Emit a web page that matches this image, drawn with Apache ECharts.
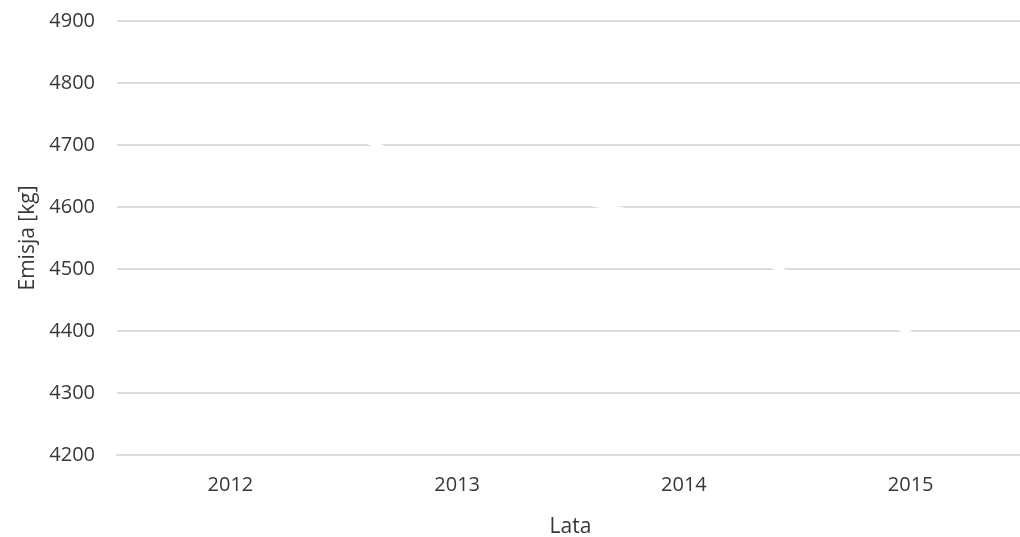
<!DOCTYPE html>
<html>
<head>
<meta charset="utf-8">
<script src="https://cdn.jsdelivr.net/npm/echarts@6/dist/echarts.min.js"></script>
<style>html,body{margin:0;padding:0;background:#fff}#c{width:1020px;height:537px}</style>
</head>
<body>
<div id="c"></div>
<script>
const years = ['2012', '2013', '2014', '2015'];
const emission = [4790, 4650, 4575, 4396];
const yMin = 4200, yMax = 4900, yStep = 100;

const chart = echarts.init(document.getElementById('c'), null, {renderer: 'canvas'});
const font = '"Open Sans", "Noto Sans", sans-serif';
chart.setOption({
  animation: false,
  backgroundColor: '#ffffff',
  grid: {left: 117, right: -4, top: 21, bottom: 82, outerBoundsMode: 'none', containLabel: false},
  xAxis: {
    type: 'category',
    data: years,
    boundaryGap: true,
    name: 'Lata',
    nameLocation: 'middle',
    nameGap: 62,
    nameTextStyle: {fontFamily: font, fontSize: 21, color: '#383838'},
    axisLine: {show: true, lineStyle: {color: '#dcdcdc', width: 2}},
    axisTick: {show: false},
    axisLabel: {fontFamily: font, fontSize: 20, color: '#383838', margin: 20}
  },
  yAxis: {
    type: 'value',
    min: yMin, max: yMax, interval: yStep,
    name: 'Emisja [kg]',
    nameLocation: 'middle',
    nameGap: 76,
    nameRotate: 90,
    nameTextStyle: {fontFamily: font, fontSize: 21, color: '#383838'},
    axisLine: {show: false},
    axisTick: {show: false},
    axisLabel: {fontFamily: font, fontSize: 20, color: '#383838', margin: 22,
      formatter: function (v) { return String(v); }},
    splitLine: {show: true, lineStyle: {color: '#dcdcdc', width: 2}}
  },
  series: [{
    type: 'line',
    data: emission,
    showSymbol: false,
    lineStyle: {color: '#ffffff', width: 5},
    z: 5
  }]
});
</script>
</body>
</html>
